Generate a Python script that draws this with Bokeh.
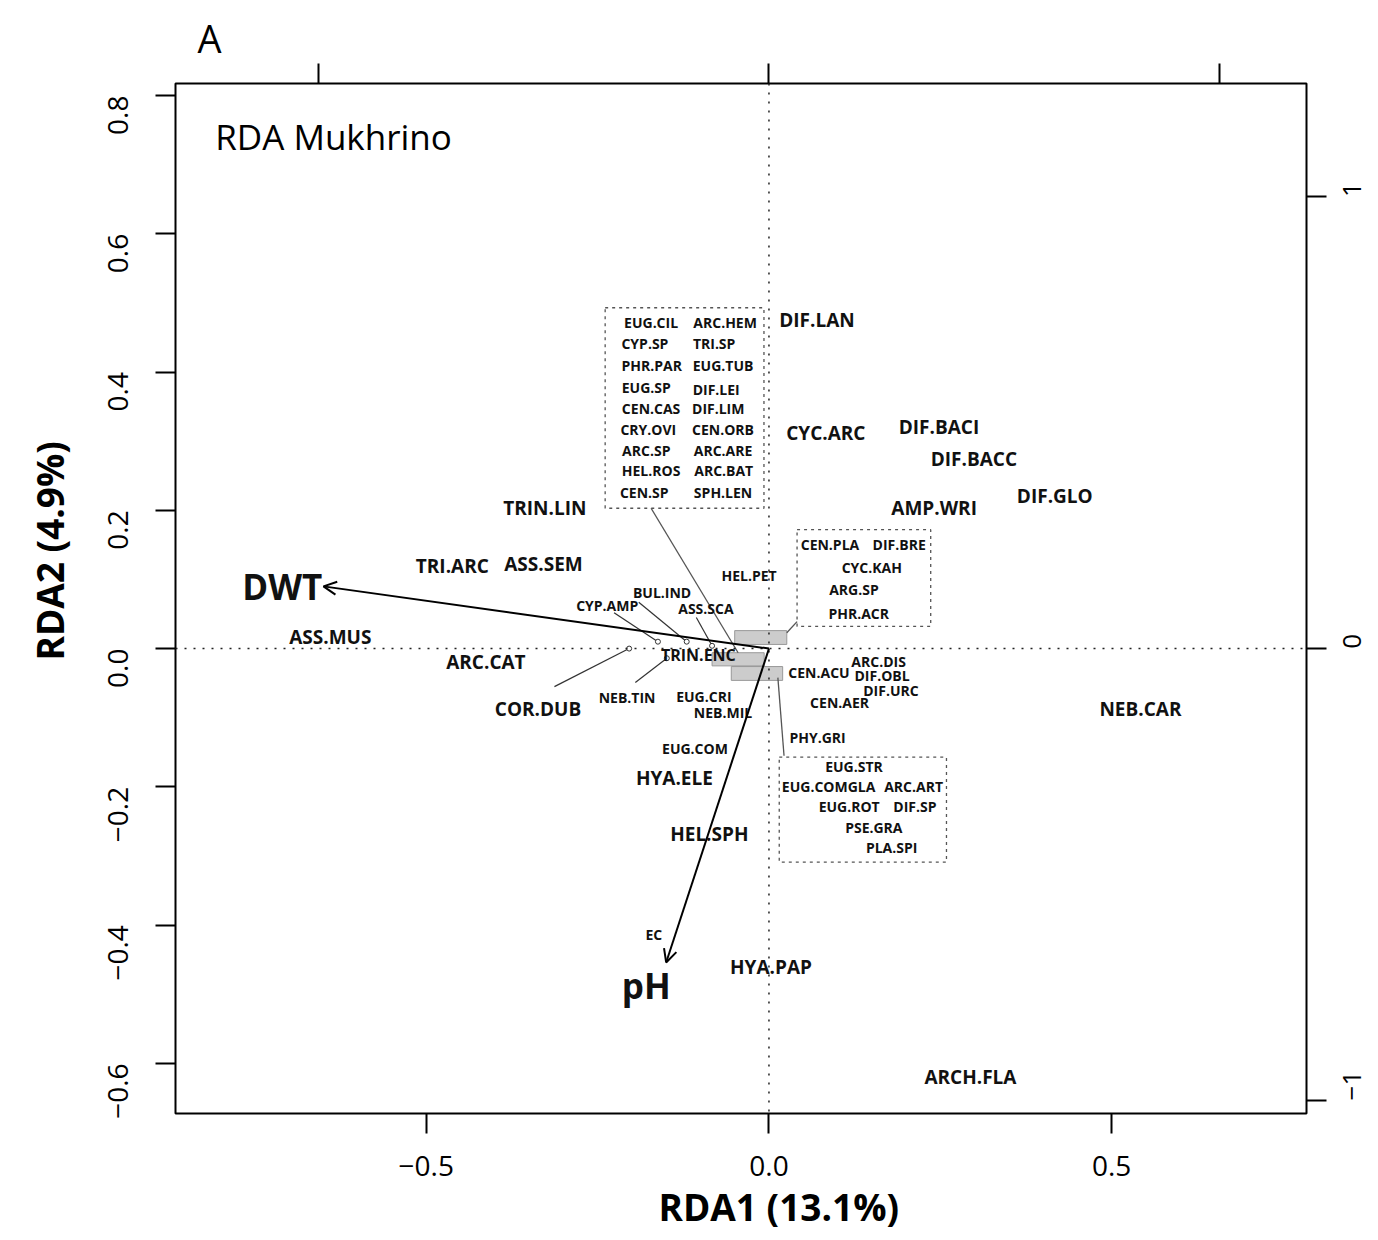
import math
from bokeh.plotting import figure
from bokeh.models import (Range1d, LinearAxis, FixedTicker, CustomJSTickFormatter,
                          Span, Label, Arrow, OpenHead, ColumnDataSource, Title)
from bokeh.core.properties import value
from bokeh.embed import file_html
from bokeh.resources import INLINE

FONT = "Open Sans"

# ---- species scores, large labels ----
big_names = ["DIF.LAN", "CYC.ARC", "DIF.BACI", "DIF.BACC", "DIF.GLO", "AMP.WRI",
             "TRIN.LIN", "TRI.ARC", "ASS.SEM", "ASS.MUS", "ARC.CAT", "COR.DUB",
             "NEB.CAR", "HYA.ELE", "HEL.SPH", "HYA.PAP", "ARCH.FLA"]
big_x = [0.070, 0.083, 0.248, 0.299, 0.417, 0.241, -0.327, -0.462, -0.329, -0.640,
         -0.413, -0.337, 0.542, -0.138, -0.087, 0.003, 0.294]
big_y = [0.475, 0.312, 0.320, 0.274, 0.220, 0.203, 0.204, 0.119, 0.123, 0.017,
         -0.019, -0.088, -0.087, -0.187, -0.268, -0.461, -0.619]

# ---- species scores, smaller labels ----
small_names = ["EC", "HEL.PET", "BUL.IND", "CYP.AMP", "ASS.SCA", "NEB.TIN", "EUG.CRI",
               "NEB.MIL", "EUG.COM", "CEN.ACU", "ARC.DIS", "DIF.OBL", "DIF.URC",
               "CEN.AER", "PHY.GRI"]
small_x = [-0.168, -0.029, -0.156, -0.236, -0.092, -0.207, -0.095, -0.067, -0.108,
           0.073, 0.160, 0.165, 0.178, 0.103, 0.071]
small_y = [-0.413, 0.106, 0.081, 0.062, 0.058, -0.071, -0.070, -0.093, -0.145,
           -0.035, -0.019, -0.039, -0.061, -0.078, -0.129]

enc_names = ["TRIN.ENC"]
enc_x = [-0.103]
enc_y = [-0.010]

# ---- labels collected in the upper dotted box ----
box1_names = ["EUG.CIL", "CYP.SP", "PHR.PAR", "EUG.SP", "CEN.CAS", "CRY.OVI", "ARC.SP",
              "HEL.ROS", "CEN.SP", "ARC.HEM", "TRI.SP", "EUG.TUB", "DIF.LEI", "DIF.LIM",
              "CEN.ORB", "ARC.ARE", "ARC.BAT", "SPH.LEN"]
box1_x = [-0.172, -0.181, -0.171, -0.179, -0.172, -0.176, -0.179, -0.172, -0.182,
          -0.064, -0.080, -0.067, -0.077, -0.074, -0.067, -0.067, -0.066, -0.067]
box1_y = [0.472, 0.441, 0.409, 0.377, 0.348, 0.317, 0.287, 0.257, 0.226,
          0.472, 0.441, 0.409, 0.375, 0.348, 0.317, 0.287, 0.257, 0.226]

# ---- labels in the right dotted box ----
box2_names = ["CEN.PLA", "DIF.BRE", "CYC.KAH", "ARG.SP", "PHR.ACR"]
box2_x = [0.089, 0.190, 0.150, 0.124, 0.131]
box2_y = [0.151, 0.151, 0.117, 0.086, 0.051]

# ---- labels in the lower dotted box ----
box3_names = ["EUG.STR", "EUG.COMGLA", "ARC.ART", "EUG.ROT", "DIF.SP", "PSE.GRA", "PLA.SPI"]
box3_x = [0.124, 0.087, 0.211, 0.117, 0.213, 0.153, 0.179]
box3_y = [-0.170, -0.200, -0.200, -0.229, -0.229, -0.259, -0.288]

# ---- environmental vectors ----
env_names = ["DWT", "pH"]
env_x = [-0.650, -0.150]
env_y = [0.090, -0.454]
env_lab_x = [-0.710, -0.179]
env_lab_y = [0.090, -0.487]

# ---- species points shown with leader lines ----
pt_x = [-0.162, -0.120, -0.083, -0.149, -0.204]
pt_y = [0.010, 0.010, 0.004, -0.014, 0.000]
lead_x = [-0.226, -0.190, -0.106, -0.195, -0.313]
lead_y = [0.052, 0.067, 0.045, -0.049, -0.055]

# leader lines from boxes to their clusters
gl_x0 = [-0.172, 0.041, 0.013]
gl_y0 = [0.203, 0.039, -0.042]
gl_x1 = [-0.045, 0.026, 0.022]
gl_y1 = [-0.006, 0.023, -0.155]

# dotted group boxes
gb_left = [-0.239, 0.041, 0.015]
gb_right = [-0.0073, 0.236, 0.259]
gb_top = [0.493, 0.172, -0.157]
gb_bottom = [0.203, 0.032, -0.309]

# grey cluster rectangles near the origin
gr_left = [-0.050, -0.083, -0.055]
gr_right = [0.026, -0.007, 0.020]
gr_top = [0.026, -0.006, -0.026]
gr_bottom = [0.006, -0.025, -0.046]

W, H = 1378, 1238
p = figure(width=W, height=H, output_backend="svg", toolbar_location=None, title=None,
           x_range=Range1d(-0.8659, 0.7843), y_range=Range1d(-0.6725, 0.8174),
           min_border_left=174, min_border_right=W - 174 - 1132, min_border_top=83,
           min_border_bottom=H - 83 - 1030, background_fill_color="white",
           border_fill_color="white", outline_line_color="black",
           outline_line_width=2, x_axis_location=None, y_axis_location=None)
p.xgrid.visible = False
p.ygrid.visible = False

p.extra_x_ranges = {"top": Range1d(-1.317, 1.193)}
p.extra_y_ranges = {"right": Range1d(-1.029, 1.251)}

fmt1 = CustomJSTickFormatter(code="return tick.toFixed(1).replace('-', '\u2212');")
fmt0 = CustomJSTickFormatter(code="return tick.toFixed(0).replace('-', '\u2212');")
fmt_blank = CustomJSTickFormatter(code="return '';")


def style_axis(ax, size="28px"):
    ax.axis_line_color = None
    ax.major_tick_out = 20
    ax.major_tick_in = 0
    ax.minor_tick_line_color = None
    ax.major_tick_line_width = 2
    ax.major_tick_line_color = "black"
    ax.major_label_text_font = FONT
    ax.major_label_text_font_size = size
    ax.major_label_text_color = "black"


xb = LinearAxis(ticker=FixedTicker(ticks=[-0.5, 0.0, 0.5]), formatter=fmt1)
style_axis(xb)
xb.major_label_standoff = 22
p.add_layout(xb, "below")

yl = LinearAxis(ticker=FixedTicker(ticks=[-0.6, -0.4, -0.2, 0.0, 0.2, 0.4, 0.6, 0.8]),
                formatter=fmt1)
style_axis(yl)
yl.major_label_orientation = math.pi / 2
yl.major_label_standoff = 37
p.add_layout(yl, "left")

xt = LinearAxis(x_range_name="top", ticker=FixedTicker(ticks=[-1, 0, 1]),
                formatter=fmt_blank)
style_axis(xt, size="1px")
xt.major_label_standoff = 0
p.add_layout(xt, "above")

yr = LinearAxis(y_range_name="right", ticker=FixedTicker(ticks=[-1, 0, 1]),
                formatter=fmt0)
style_axis(yr, size="26px")
yr.major_label_orientation = math.pi / 2
yr.major_label_standoff = 26
p.add_layout(yr, "right")

# panel letter and axis titles
p.add_layout(Title(text="A", align="left", offset=22, standoff=0, text_font=FONT,
                   text_font_size="38px", text_font_style="normal",
                   text_color="black"), "above")
p.add_layout(Title(text="RDA1 (13.1%)", align="left", offset=483, standoff=0,
                   text_font=FONT, text_font_size="37px", text_font_style="bold",
                   text_color="black"), "below")
p.add_layout(Title(text="RDA2 (4.9%)", align="left", offset=453, standoff=42,
                   text_font=FONT, text_font_size="37px", text_font_style="bold",
                   text_color="black"), "left")

# zero lines
for dim, loc in (("height", 0.0), ("width", 0.0)):
    p.add_layout(Span(location=loc, dimension=dim, line_color="#222222",
                      line_dash="2 7", line_width=1.5))

# dotted group boxes
p.quad(left=gb_left, right=gb_right, top=gb_top, bottom=gb_bottom,
       fill_color=None, line_color="#555555", line_dash="3 4", line_width=1.3)

# grey cluster rectangles
p.quad(left=gr_left, right=gr_right, top=gr_top, bottom=gr_bottom,
       fill_color="#cccccc", line_color="#999999", line_width=1)

# leader lines
p.segment(x0=gl_x0, y0=gl_y0, x1=gl_x1, y1=gl_y1, line_color="#555555", line_width=1.3)
p.segment(x0=lead_x, y0=lead_y, x1=pt_x, y1=pt_y, line_color="#333333", line_width=1.2)
p.scatter(x=pt_x, y=pt_y, size=5, marker="circle", fill_color="white",
          line_color="#333333", line_width=1)

# environmental arrows
for ex, ey in zip(env_x, env_y):
    p.add_layout(Arrow(end=OpenHead(size=13, line_width=2, line_color="black"),
                       x_start=0, y_start=0, x_end=ex, y_end=ey,
                       line_width=2, line_color="black"))


def labels(names, xs, ys, size):
    src = ColumnDataSource(dict(x=xs, y=ys, t=names))
    p.text(x="x", y="y", text="t", source=src, text_font=value(FONT),
           text_font_style="bold", text_font_size=size, text_align="center",
           text_baseline="middle", text_color="#111111")


labels(big_names, big_x, big_y, "19px")
labels(small_names, small_x, small_y, "14px")
labels(enc_names, enc_x, enc_y, "16px")
labels(box1_names, box1_x, box1_y, "14px")
labels(box2_names, box2_x, box2_y, "14px")
labels(box3_names, box3_x, box3_y, "14px")
labels(env_names, env_lab_x, env_lab_y, "35px")

p.add_layout(Label(x=-0.808, y=0.741, text="RDA Mukhrino", text_font=FONT,
                   text_font_size="35px", text_align="left", text_baseline="middle",
                   text_color="black"))

open("out.html", "w").write(file_html(p, INLINE))
